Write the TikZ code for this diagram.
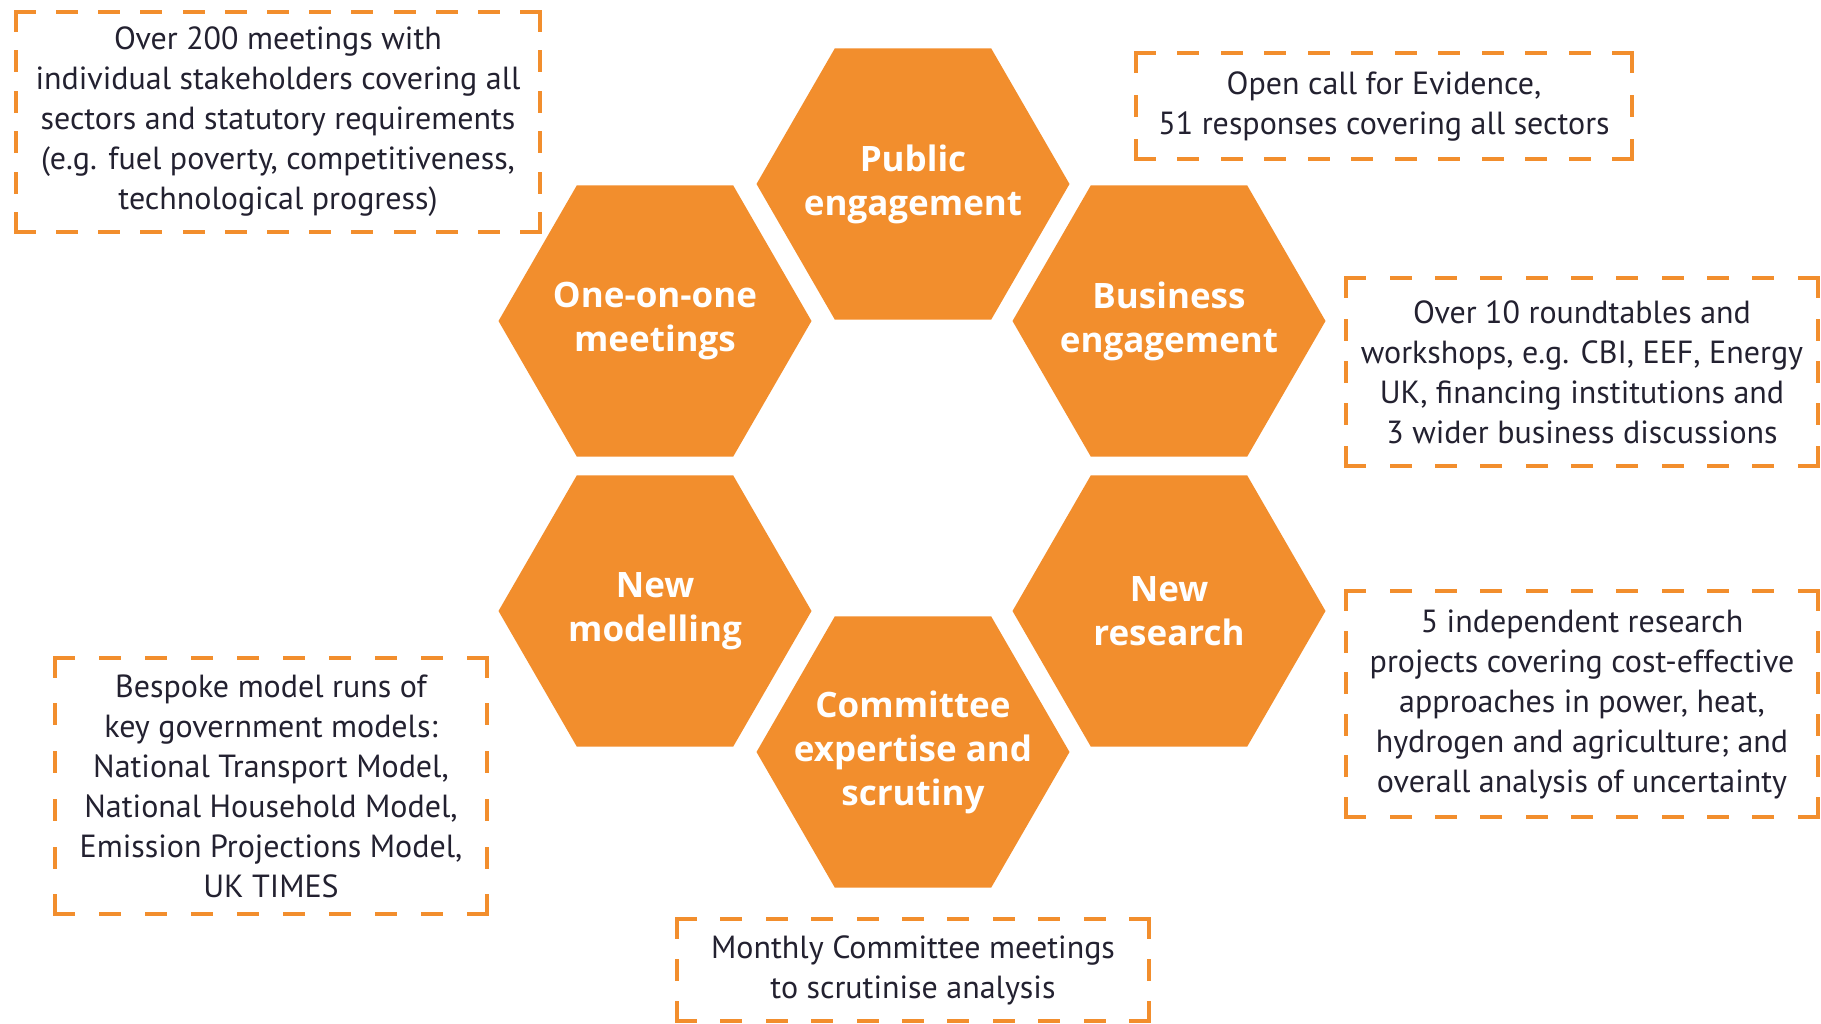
\documentclass[tikz,border=0pt]{standalone}
\usepackage{fontspec}
\setmainfont{PT Sans}
\newfontfamily\hexfont{Open Sans}
\usetikzlibrary{shapes.geometric}
\definecolor{cccorange}{RGB}{242,142,45}
\definecolor{ccctext}{RGB}{35,33,48}
\newdimen\fxa \newdimen\fya \newdimen\fxb \newdimen\fyb
\newcommand\dashside[3]{%
  \pgfmathsetmacro\dsn{max(1,round((#1-18)/44))}%
  \pgfmathsetmacro\dsg{(#1-(\dsn+1)*18)/\dsn}%
  \draw[frameline, dash pattern=on 18pt off \dsg pt] (#2) -- (#3);}
\newcommand\dashframe[1]{%
  \pgfextractx{\fxa}{\pgfpointanchor{#1}{north west}}%
  \pgfextracty{\fya}{\pgfpointanchor{#1}{north west}}%
  \pgfextractx{\fxb}{\pgfpointanchor{#1}{south east}}%
  \pgfextracty{\fyb}{\pgfpointanchor{#1}{south east}}%
  \pgfmathsetmacro\fw{abs(\fxb-\fxa)}%
  \pgfmathsetmacro\fh{abs(\fyb-\fya)}%
  \dashside{\fw}{#1.north west}{#1.north east}%
  \dashside{\fh}{#1.north east}{#1.south east}%
  \dashside{\fw}{#1.south west}{#1.south east}%
  \dashside{\fh}{#1.north west}{#1.south west}%
}
\begin{document}
\begin{tikzpicture}[x=1pt,y=-1pt,
  hexa/.style={regular polygon, regular polygon sides=6, minimum size=313pt, inner sep=0pt, fill=cccorange, draw=none},
  hextxt/.style={text=white, font=\hexfont\fontsize{35}{44}\selectfont\bfseries, align=center},
  infobox/.style={draw=none, text=ccctext, font=\fontsize{32}{40}\selectfont, align=center, inner sep=0pt},
  frameline/.style={draw=cccorange, line width=4pt, line cap=rect}]
\useasboundingbox (0,0) rectangle (1821,1023);

% hexagons
\node[hexa, label={[hextxt]center:{Public\\engagement}}] (pub) at (913,184) {};
\node[hexa, label={[hextxt]center:{One-on-one\\meetings}}] (one) at (655,321) {};
\node[hexa, label={[hextxt]center:{Business\\engagement}}] (bus) at (1169,321) {};
\node[hexa, label={[hextxt]center:{New\\modelling}}] (mod) at (655,611) {};
\node[hexa, label={[hextxt]center:{New\\research}}] (res) at (1169,611) {};
\node[hexa, label={[hextxt]center:{Committee\\expertise and\\scrutiny}}] (com) at (913,752) {};

% info boxes
\node[infobox, minimum width=524pt, minimum height=220pt] (b1) at (278,122)
  {Over 200 meetings with\\individual stakeholders covering all\\sectors and statutory requirements\\(e.g. fuel poverty, competitiveness,\\technological progress)};
\node[infobox, minimum width=496pt, minimum height=105pt] (b2) at (1384,106)
  {Open call for Evidence,\\51 responses covering all sectors};
\node[infobox, minimum width=471pt, minimum height=187pt] (b3) at (1582,372)
  {Over 10 roundtables and\\workshops, e.g. CBI, EEF, Energy\\UK, financing institutions and\\3 wider business discussions};
\node[infobox, minimum width=471pt, minimum height=225pt] (b4) at (1582,704)
  {5 independent research\\projects covering cost-effective\\approaches in power, heat,\\hydrogen and agriculture; and\\overall analysis of uncertainty};
\node[infobox, minimum width=431pt, minimum height=256pt] (b5) at (271,786)
  {Bespoke model runs of\\key government models:\\National Transport Model,\\National Household Model,\\Emission Projections Model,\\UK TIMES};
\node[infobox, minimum width=472pt, minimum height=102pt] (b6) at (913,970)
  {Monthly Committee meetings\\to scrutinise analysis};

\dashframe{b1}
\dashframe{b2}
\dashframe{b3}
\dashframe{b4}
\dashframe{b5}
\dashframe{b6}
\end{tikzpicture}
\end{document}
